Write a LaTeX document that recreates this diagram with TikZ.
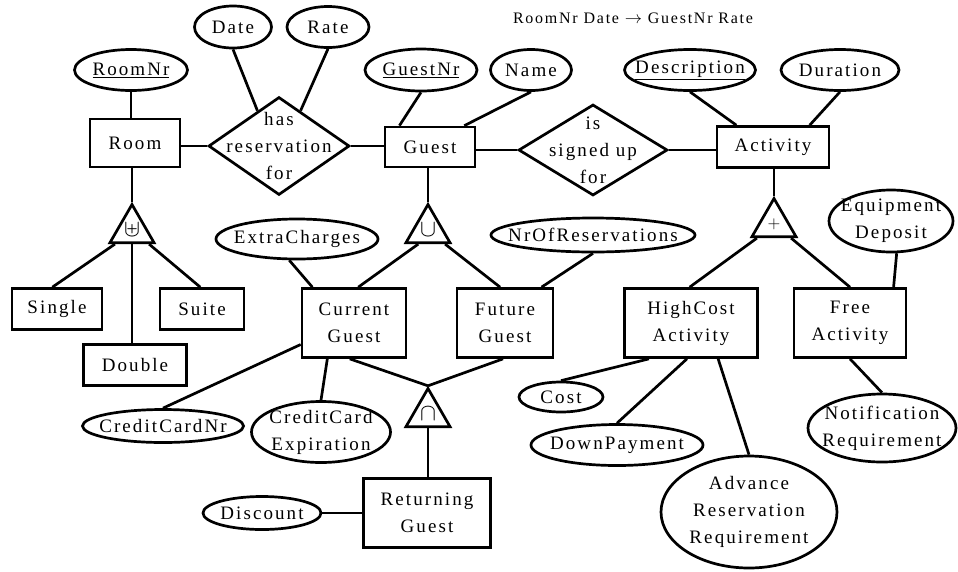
\documentclass[tikz,border=0pt]{standalone}
\usepackage{fontspec}
\usepackage{graphicx}
\setmainfont{Liberation Serif}[LetterSpace=11]
\usetikzlibrary{shapes.geometric,calc}
\newcommand\erfont{\fontsize{19}{27}\selectfont}
\newcommand\isaop[2]{\scalebox{#1}{$#2$}}

\begin{document}
\begin{tikzpicture}[x=1pt,y=-1pt,line width=2.7pt,
  ent/.style={draw,rectangle,inner sep=0pt,align=center,font=\erfont},
  attr/.style={draw,ellipse,inner xsep=-40pt,inner ysep=-30pt,align=center,font=\erfont},
  rel/.style={draw,diamond,inner sep=-50pt,align=center,font=\erfont},
  isa/.style={draw,regular polygon,regular polygon sides=3,minimum size=51pt,inner sep=0pt,font=\fontsize{12}{12}\selectfont}]
\useasboundingbox (0,0) rectangle (958,571);

% functional dependency
\node[font=\fontsize{16}{16}\selectfont] (fd) at (633,18) {RoomNr Date $\rightarrow$ GuestNr Rate};

% entities
\node[ent,minimum width=90pt,minimum height=48pt] (room) at (135,143) {Room};
\node[ent,minimum width=90pt,minimum height=40pt] (guest) at (430,147) {Guest};
\node[ent,minimum width=112pt,minimum height=41pt] (activity) at (773,147) {Activity};
\node[ent,minimum width=90pt,minimum height=41pt] (single) at (57,309) {Single};
\node[ent,minimum width=84pt,minimum height=41pt] (suite) at (202,309) {Suite};
\node[ent,minimum width=103pt,minimum height=41pt] (double) at (135,365) {Double};
\node[ent,minimum width=104pt,minimum height=69pt] (current) at (354,323) {Current\\Guest};
\node[ent,minimum width=96pt,minimum height=69pt] (future) at (505,323) {Future\\Guest};
\node[ent,minimum width=133pt,minimum height=69pt] (highcost) at (691,323) {HighCost\\Activity};
\node[ent,minimum width=112pt,minimum height=69pt] (free) at (850,323) {Free\\Activity};
\node[ent,minimum width=127pt,minimum height=69pt] (returning) at (427,513) {Returning\\Guest};

% relationships
\node[rel,minimum width=141pt,minimum height=98pt] (hasres) at (279,146) {has\\reservation\\for};
\node[rel,minimum width=149pt,minimum height=91pt] (signed) at (593,150) {is\\signed up\\for};

% attributes
\node[attr,minimum width=113pt,minimum height=41pt] (roomnr) at (131,70) {\underline{RoomNr}};
\node[attr,minimum width=77pt,minimum height=42pt] (date) at (233,27) {Date};
\node[attr,minimum width=82pt,minimum height=41pt] (rate) at (328,27) {Rate};
\node[attr,minimum width=112pt,minimum height=42pt] (guestnr) at (421,70) {\underline{GuestNr}};
\node[attr,minimum width=81pt,minimum height=41pt] (name) at (531,70) {Name};
\node[attr,minimum width=131pt,minimum height=41pt] (description) at (690,70) {\underline{Description}};
\node[attr,minimum width=118pt,minimum height=41pt] (duration) at (840,70) {Duration};
\node[attr,minimum width=162pt,minimum height=40pt] (extra) at (297,239) {ExtraCharges};
\node[attr,minimum width=204pt,minimum height=34pt] (nrof) at (593,235) {NrOfReservations};
\node[attr,minimum width=124pt,minimum height=62pt] (equip) at (891,221) {Equipment\\Deposit};
\node[attr,minimum width=161pt,minimum height=33pt] (ccnr) at (163,426) {CreditCardNr};
\node[attr,minimum width=139pt,minimum height=61pt] (ccexp) at (321,432) {CreditCard\\Expiration};
\node[attr,minimum width=118pt,minimum height=33pt] (discount) at (262,513) {Discount};
\node[attr,minimum width=84pt,minimum height=30pt] (cost) at (561,397) {Cost};
\node[attr,minimum width=172pt,minimum height=41pt] (downp) at (617,445) {DownPayment};
\node[attr,minimum width=176pt,minimum height=112pt] (advance) at (749,512) {Advance\\Reservation\\Requirement};
\node[attr,minimum width=148pt,minimum height=68pt] (notif) at (882,428) {Notification\\Requirement};

% specialisation triangles
\node[isa] (rtri) at (132,230) {\isaop{2}{\uplus}};
\node[isa] (gtri) at (428,230) {\isaop{2}{\cup}};
\node[isa] (atri) at (774,224) {\isaop{1.4}{+}};
\node[isa] (itri) at (428,414) {\isaop{2}{\cap}};

% attribute links
\draw (roomnr.south) -- (room.north -| roomnr.south);
\draw (date.south) -- ($(hasres.north)!0.3!(hasres.west)$);
\draw (rate.south) -- ($(hasres.north)!0.3!(hasres.east)$);
\draw (guestnr.south) -- ($(guest.north west)!0.17!(guest.north east)$);
\draw (name.south) -- ($(guest.north west)!0.87!(guest.north east)$);
\draw (description.south) -- ($(activity.north west)!0.18!(activity.north east)$);
\draw (duration.south) -- ($(activity.north west)!0.82!(activity.north east)$);
\draw (extra.-110) -- ($(current.north west)!0.11!(current.north east)$);
\draw (nrof.south) -- ($(future.north west)!0.87!(future.north east)$);
\draw (equip.-80) -- ($(free.north west)!0.88!(free.north east)$);
\draw ($(current.north west)!0.8!(current.south west)$) -- (ccnr.north);
\draw ($(current.south west)!0.25!(current.south east)$) -- (ccexp.north);
\draw (discount.east) -- (discount.east -| returning.west);
\draw ($(highcost.south west)!0.19!(highcost.south east)$) -- (cost.north);
\draw ($(highcost.south west)!0.47!(highcost.south east)$) -- (downp.north);
\draw ($(highcost.south west)!0.7!(highcost.south east)$) -- (advance.north);
\draw (free.south) -- (notif.north);

% relationship links
\draw (hasres.west) -- (hasres.west -| room.east);
\draw (hasres.east) -- (hasres.east -| guest.west);
\draw (signed.west) -- (signed.west -| guest.east);
\draw (signed.east) -- (signed.east -| activity.west);

% specialisation links
\draw (rtri.corner 1) -- (rtri.corner 1 |- room.south);
\draw ($(rtri.corner 2)!0.15!(rtri.corner 3)$) -- ($(single.north west)!0.45!(single.north east)$);
\draw (rtri.side 2) -- (rtri.side 2 |- double.north);
\draw ($(rtri.corner 3)!0.15!(rtri.corner 2)$) -- ($(suite.north west)!0.48!(suite.north east)$);

\draw (gtri.corner 1) -- (gtri.corner 1 |- guest.south);
\draw ($(gtri.corner 2)!0.3!(gtri.corner 3)$) -- ($(current.north west)!0.54!(current.north east)$);
\draw ($(gtri.corner 3)!0.15!(gtri.corner 2)$) -- ($(future.north west)!0.45!(future.north east)$);

\draw (atri.corner 1) -- (atri.corner 1 |- activity.south);
\draw ($(atri.corner 2)!0.15!(atri.corner 3)$) -- ($(highcost.north west)!0.49!(highcost.north east)$);
\draw ($(atri.corner 3)!0.15!(atri.corner 2)$) -- (free.north);

\draw ($(current.south west)!0.46!(current.south east)$) -- (itri.corner 1);
\draw ($(future.south west)!0.48!(future.south east)$) -- (itri.corner 1);
\draw (itri.side 2) -- (itri.side 2 |- returning.north);
\end{tikzpicture}
\end{document}
